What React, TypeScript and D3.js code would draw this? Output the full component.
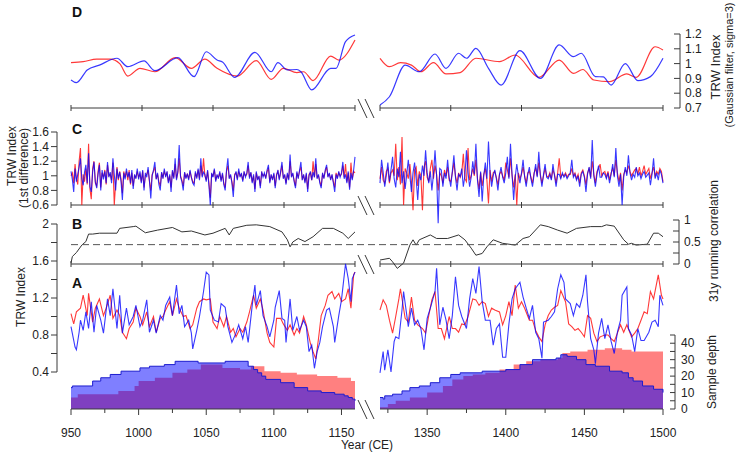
import * as d3 from "d3";

type Pt = [number, number];

// ---------- x axis (two segments with a break) ----------
const LEFT_YEARS: [number, number] = [950, 1160];
const RIGHT_YEARS: [number, number] = [1320, 1500];
const yearLabelsLeft = [950, 1000, 1050, 1100, 1150];
const yearMinorLeft = [975, 1025, 1075, 1125];
const yearLabelsRight = [1350, 1400, 1450, 1500];
const yearMinorRight = [1325, 1375, 1425, 1475];

// ---------- y ticks ----------
const dTicks = [0.7, 0.8, 0.9, 1.0, 1.1, 1.2];
const cTicks = [0.6, 0.8, 1.0, 1.2, 1.4, 1.6];
const bTicks = [0, 0.25, 0.5, 0.75, 1];
const bLabels = [0, 0.5, 1];
const aTicks = [0.4, 0.6, 0.8, 1.0, 1.2, 1.4, 1.6, 1.8, 2.0];
const aLabels = [0.4, 0.8, 1.2, 1.6, 2.0];
const depthTicks = [0, 5, 10, 15, 20, 25, 30, 35, 40, 45];
const depthLabels = [0, 10, 20, 30, 40];
const corrThreshold = 0.44;

// ---------- D: Gaussian filtered (sigma=3) ----------
const dRedLeft: Pt[] = [[950,1.006],[959,1.013],[969,1.03],[979,1.03],[986,1.0],[992,0.916],[1001,0.968],[1012,0.945],[1027,1.04],[1039,0.968],[1049,1.03],[1058,0.968],[1073,0.916],[1087,1.02],[1098,0.894],[1107,0.968],[1117,0.939],[1122,0.945],[1129,0.885],[1142,1.051],[1148,1.024],[1160,1.16]];
const dBlueLeft: Pt[] = [[950,0.889],[954,0.871],[962,0.957],[971,0.99],[984,1.036],[992,0.979],[1004,1.018],[1012,0.952],[1029,1.04],[1041,0.912],[1050,1.08],[1058,1.024],[1062,1.01],[1071,0.907],[1086,1.076],[1098,0.945],[1103,1.006],[1110,0.957],[1117,0.96],[1120,0.945],[1128,0.822],[1142,0.968],[1146,0.968],[1153,1.148],[1160,1.193]];
const dRedRight: Pt[] = [[1320,1.036],[1326,0.979],[1333,1.006],[1340,0.99],[1346,0.945],[1354,1.006],[1362,0.93],[1371,0.939],[1381,1.036],[1396,1.013],[1406,1.058],[1421,0.907],[1434,1.024],[1443,0.934],[1449,0.96],[1456,0.889],[1466,0.878],[1477,0.93],[1483,0.907],[1495,1.114],[1500,1.092]];
const dBlueRight: Pt[] = [[1320,0.72],[1326,0.776],[1336,0.99],[1345,0.945],[1355,1.065],[1362,0.968],[1370,1.07],[1375,1.036],[1381,1.103],[1389,0.968],[1397,0.855],[1409,1.087],[1422,0.9],[1434,1.126],[1443,1.047],[1448,1.07],[1457,0.912],[1462,0.91],[1467,0.855],[1476,1.0],[1484,0.885],[1492,0.912],[1500,1.036]];

// ---------- C: 1st difference, annual ----------
const cBlueLeft = [
  1.06,0.95,0.78,1.10,0.92,1.02,1.12,1.24,0.96,0.87,
  1.05,1.15,0.90,1.31,0.85,0.78,1.05,1.19,0.92,0.83,
  1.02,1.15,0.80,1.08,0.95,1.06,0.90,1.19,0.98,1.05,
  0.90,1.24,1.02,0.80,1.10,0.96,1.05,0.92,0.67,1.04,
  0.95,1.10,0.98,1.05,0.90,1.08,0.82,1.02,0.96,1.10,
  0.95,1.06,0.90,1.08,0.80,1.04,0.98,1.12,0.94,0.69,
  1.00,1.08,1.19,0.95,1.04,0.88,0.80,1.05,0.96,1.10,
  0.98,1.06,0.90,1.02,0.78,1.08,0.96,1.24,0.94,1.06,
  1.42,0.98,0.92,0.80,1.05,0.96,1.03,0.94,1.08,0.98,
  0.90,0.87,1.06,0.96,1.10,0.94,1.24,0.98,1.05,1.02,
  0.92,1.08,0.86,0.60,1.04,0.98,1.10,0.92,1.02,0.96,
  1.06,0.92,1.04,0.88,0.80,1.08,1.24,0.96,1.02,0.90,
  0.71,1.00,1.06,0.94,1.10,0.98,1.04,0.92,1.06,0.98,
  1.04,1.19,0.96,1.05,0.90,1.02,0.78,1.06,0.94,1.00,
  0.83,1.06,0.98,1.04,0.96,1.08,1.15,0.90,1.02,0.94,
  1.04,0.83,1.00,1.08,0.94,1.06,1.19,0.96,1.02,0.88,
  1.04,0.94,1.29,0.98,1.04,0.92,0.83,1.06,0.96,1.08,
  1.19,0.94,1.02,0.90,1.04,0.78,1.00,1.06,0.94,1.05,
  0.98,1.24,0.96,1.02,0.90,0.83,1.04,0.96,1.08,1.15,
  0.98,1.04,0.94,1.02,0.90,0.78,1.02,0.96,1.06,0.98,
  1.04,1.19,0.96,1.02,0.90,1.06,0.81,1.04,0.94,1.08,
  1.26,
];
const cRedLeft = [
  1.00,1.04,0.90,1.16,0.96,0.88,1.20,1.38,0.60,1.02,
  0.92,1.10,0.88,1.44,0.82,0.68,1.10,1.20,0.90,0.86,
  1.06,1.18,0.84,1.04,0.98,1.08,0.88,1.15,1.00,1.02,
  0.94,1.18,0.60,0.90,1.12,0.94,1.06,0.96,0.76,1.06,
  0.98,1.06,0.94,1.08,0.88,1.04,0.86,1.00,0.98,1.06,
  0.98,1.02,0.92,1.06,0.84,1.00,1.02,1.08,0.92,0.80,
  1.02,1.06,1.12,0.96,1.02,0.92,0.86,1.04,0.98,1.06,
  1.00,1.04,0.92,1.00,0.84,1.06,0.98,1.16,0.96,1.04,
  1.24,1.00,0.94,0.86,1.04,0.98,1.02,0.96,1.06,0.98,
  0.92,0.90,1.04,0.98,1.08,0.96,1.14,1.00,1.24,1.00,
  0.94,1.06,0.90,0.70,1.02,1.00,1.08,0.94,1.00,0.98,
  1.04,0.94,1.02,0.90,0.84,1.06,1.14,0.98,1.00,0.92,
  0.80,1.02,1.04,0.96,1.06,1.00,1.02,0.94,1.04,1.00,
  1.02,1.14,0.98,1.04,0.92,1.00,0.82,1.04,0.96,0.98,
  0.86,1.04,1.00,1.02,0.98,1.06,1.10,0.92,1.00,0.96,
  1.02,0.86,1.02,1.06,0.96,1.04,1.14,0.98,1.00,0.90,
  1.02,0.96,1.20,1.00,1.02,0.94,0.86,1.04,0.98,1.06,
  1.12,0.96,1.00,0.92,1.02,0.82,1.02,1.04,0.94,1.20,
  0.98,1.16,0.98,1.00,0.92,0.86,1.02,0.98,1.06,1.12,
  1.00,1.02,0.96,1.00,0.92,0.84,1.04,0.98,1.04,1.00,
  1.02,1.14,0.98,1.16,0.92,1.04,0.84,1.18,0.96,1.06,
  1.04,
];
const cBlueRight = [
  0.90,1.22,1.05,0.85,1.00,1.18,0.92,1.08,1.26,0.96,
  0.84,1.10,0.98,1.33,0.90,1.06,0.82,1.02,1.22,1.00,
  0.78,1.04,1.18,0.96,0.67,1.02,0.94,1.14,1.00,1.35,
  1.04,0.90,1.06,0.80,1.02,1.35,1.00,0.35,1.10,1.08,
  0.85,1.04,0.96,1.22,0.98,0.85,1.06,1.28,0.98,0.80,
  1.02,0.99,1.10,0.85,1.00,1.35,1.04,0.85,0.98,1.20,
  1.02,1.44,0.94,0.71,1.06,0.65,1.00,1.18,0.96,1.47,
  1.04,0.85,1.00,1.08,0.96,0.80,1.02,1.12,0.98,0.90,
  1.04,1.26,0.96,1.44,1.02,0.67,0.98,1.16,1.00,0.90,
  1.04,1.22,0.98,0.85,1.02,1.12,0.96,0.85,1.02,1.16,
  0.98,1.33,1.00,0.85,1.02,1.16,0.98,0.96,1.02,0.94,
  1.16,1.00,0.85,1.02,1.02,0.96,1.04,0.98,1.02,0.96,
  1.00,1.04,1.22,0.98,1.02,0.94,1.00,0.85,1.02,1.06,
  0.98,0.78,1.02,1.12,0.96,1.49,1.00,0.85,1.02,1.14,
  0.98,0.98,1.04,1.02,0.96,1.04,0.90,1.02,1.16,0.98,
  1.38,1.00,0.85,1.02,0.60,0.98,1.12,1.00,1.28,1.04,
  0.94,1.02,0.98,1.12,1.00,1.04,0.96,1.02,1.06,0.98,
  1.01,1.04,0.87,1.02,1.24,0.96,1.04,0.94,1.08,1.02,
  0.90,
];
const cRedRight = [
  0.96,1.12,0.94,0.90,1.06,1.10,0.90,1.04,1.08,1.00,
  1.44,0.94,1.12,0.88,1.53,0.60,1.10,1.04,0.96,1.16,
  0.92,0.53,1.08,1.12,0.86,1.06,1.00,0.53,1.12,1.20,
  0.98,0.92,1.10,1.22,0.96,1.14,1.02,0.80,1.04,1.00,
  0.90,1.08,1.00,1.12,0.94,0.92,1.04,1.18,1.00,0.90,
  1.04,0.98,1.04,1.30,0.96,0.92,1.38,0.94,1.00,1.10,
  1.00,1.22,0.96,0.82,1.04,0.86,1.02,1.10,0.94,0.62,
  1.08,0.92,1.04,1.06,0.98,0.88,1.02,1.06,1.00,0.94,
  1.18,1.08,0.98,1.24,1.00,0.84,1.02,0.60,1.04,0.96,
  1.02,1.12,1.00,0.90,1.04,1.06,0.98,0.90,1.04,1.10,
  1.00,1.18,1.02,0.90,1.00,1.10,1.00,0.98,1.04,0.96,
  1.08,1.02,0.90,1.04,1.24,0.98,1.02,1.00,1.04,0.98,
  1.02,1.02,1.10,1.00,1.04,0.96,1.02,0.90,1.04,1.08,
  1.00,0.88,1.04,1.10,0.98,1.20,1.02,0.90,1.06,1.10,
  1.16,1.00,1.04,1.06,0.98,1.06,0.94,1.04,1.10,1.00,
  1.22,1.04,0.92,1.04,0.80,1.02,1.08,1.04,1.14,1.06,
  1.00,1.04,1.08,1.10,1.02,1.12,1.00,1.06,1.14,1.02,
  1.06,1.10,0.96,1.04,1.12,1.00,1.06,1.02,1.10,1.06,
  0.92,
];

// ---------- B: 31y running correlation ----------
const corrLeft: Pt[] = [[950,0.02],[951,0.17],[954,0.26],[958,0.43],[961,0.51],[963,0.68],[966,0.68],[971,0.7],[984,0.7],[986,0.81],[996,0.85],[998,0.86],[1005,0.71],[1014,0.77],[1025,0.83],[1032,0.73],[1039,0.75],[1049,0.66],[1055,0.7],[1064,0.81],[1067,0.66],[1070,0.81],[1080,0.88],[1087,0.89],[1097,0.85],[1106,0.73],[1110,0.55],[1112,0.39],[1114,0.5],[1118,0.58],[1123,0.51],[1129,0.62],[1136,0.81],[1144,0.81],[1151,0.7],[1155,0.58],[1160,0.73]];
const corrRight: Pt[] = [[1320,0.09],[1326,0.13],[1328,0.05],[1331,-0.1],[1335,0.02],[1339,0.43],[1341,0.55],[1343,0.43],[1345,0.55],[1352,0.66],[1356,0.58],[1363,0.58],[1370,0.66],[1374,0.55],[1378,0.36],[1381,0.2],[1385,0.24],[1388,0.39],[1392,0.55],[1398,0.47],[1406,0.43],[1411,0.58],[1415,0.62],[1422,0.89],[1427,0.85],[1433,0.77],[1439,0.7],[1445,0.81],[1454,0.85],[1461,0.85],[1464,0.89],[1469,0.86],[1475,0.55],[1478,0.45],[1480,0.47],[1483,0.43],[1490,0.45],[1494,0.7],[1497,0.7],[1500,0.62]];

// ---------- A: TRW index ----------
const aBlueLeft: Pt[] = [[950,0.89],[953,0.67],[954,0.64],[956,0.83],[957,0.96],[959,0.85],[961,1.05],[963,0.87],[965,1.16],[967,0.83],[969,1.12],[972,0.96],[974,0.82],[977,1.19],[979,1.01],[981,1.3],[984,0.87],[986,1.23],[988,0.82],[991,1.09],[993,0.91],[996,1.0],[998,1.12],[1001,0.89],[1003,0.96],[1006,1.18],[1008,0.83],[1011,0.96],[1013,0.82],[1016,1.01],[1018,0.96],[1020,1.12],[1023,1.21],[1025,1.01],[1028,1.34],[1030,1.03],[1032,1.12],[1034,0.89],[1037,0.96],[1039,0.82],[1040,0.65],[1043,0.85],[1045,1.0],[1048,1.27],[1050,1.48],[1052,1.45],[1053,1.07],[1056,0.96],[1059,0.94],[1061,1.14],[1064,1.1],[1066,0.89],[1069,0.72],[1072,0.82],[1074,0.91],[1077,0.76],[1079,0.89],[1081,0.72],[1084,1.12],[1086,1.34],[1087,1.12],[1090,1.28],[1092,1.01],[1095,0.89],[1097,0.78],[1100,0.96],[1101,1.1],[1104,1.28],[1106,0.98],[1108,0.96],[1109,0.72],[1112,1.19],[1114,0.85],[1117,1.0],[1119,0.85],[1122,0.96],[1124,0.89],[1126,0.62],[1128,0.69],[1130,0.44],[1132,0.62],[1134,0.72],[1136,0.89],[1139,1.07],[1141,1.09],[1144,0.89],[1145,0.72],[1148,1.01],[1150,1.18],[1153,1.57],[1155,1.41],[1157,1.16],[1158,1.41],[1160,1.48]];
const aRedLeft: Pt[] = [[950,1.03],[952,0.92],[954,1.05],[957,1.09],[959,1.23],[962,1.01],[963,1.25],[966,0.94],[968,1.09],[971,1.19],[974,1.01],[976,1.09],[979,1.23],[981,0.98],[984,1.07],[986,1.01],[988,0.83],[991,0.76],[993,0.87],[996,0.94],[998,1.09],[1001,1.0],[1003,0.91],[1006,1.05],[1008,0.89],[1011,1.0],[1013,0.83],[1016,0.98],[1018,1.0],[1020,1.07],[1023,1.16],[1025,1.01],[1028,1.19],[1030,1.09],[1033,1.0],[1035,1.01],[1038,0.87],[1040,0.91],[1043,1.09],[1045,1.16],[1048,1.19],[1050,1.18],[1053,1.19],[1055,0.94],[1058,0.87],[1060,1.0],[1063,0.89],[1065,1.0],[1068,0.83],[1070,0.87],[1072,0.78],[1075,0.87],[1077,0.83],[1080,0.94],[1082,1.05],[1085,1.23],[1087,1.09],[1090,1.19],[1092,1.07],[1095,0.82],[1097,0.72],[1100,0.67],[1102,0.98],[1105,0.98],[1107,0.92],[1110,0.85],[1112,0.91],[1115,0.8],[1117,0.87],[1119,0.82],[1122,1.0],[1124,0.91],[1127,0.71],[1129,0.62],[1131,0.54],[1133,0.76],[1135,1.01],[1138,1.12],[1140,1.23],[1143,1.27],[1145,1.19],[1148,1.25],[1150,1.16],[1153,1.19],[1155,1.3],[1157,1.09],[1159,1.45],[1160,1.48]];
const aBlueRight: Pt[] = [[1320,0.39],[1322,0.62],[1323,0.42],[1325,0.64],[1327,0.4],[1329,0.73],[1330,0.78],[1332,0.76],[1334,1.07],[1335,1.27],[1338,0.89],[1340,1.09],[1342,0.91],[1344,0.96],[1346,0.87],[1348,0.64],[1350,0.98],[1352,1.09],[1355,1.27],[1356,1.52],[1358,0.91],[1360,1.1],[1362,0.96],[1364,0.76],[1366,1.01],[1368,1.43],[1370,1.12],[1372,1.0],[1375,0.87],[1377,1.19],[1379,1.41],[1381,1.25],[1383,1.54],[1385,1.16],[1387,0.96],[1390,0.96],[1392,0.69],[1394,0.87],[1396,0.92],[1398,0.56],[1400,0.56],[1402,0.92],[1404,1.19],[1406,1.3],[1409,1.37],[1411,1.21],[1413,1.09],[1415,0.98],[1417,1.12],[1419,0.83],[1421,0.76],[1423,0.55],[1424,0.94],[1427,0.96],[1429,1.0],[1431,1.05],[1433,1.3],[1435,1.45],[1437,1.37],[1438,1.19],[1441,1.14],[1443,1.01],[1445,1.14],[1447,1.1],[1449,1.23],[1451,1.45],[1452,1.16],[1454,0.76],[1456,0.64],[1457,0.49],[1459,0.82],[1461,0.98],[1463,0.76],[1465,0.91],[1467,0.73],[1469,0.6],[1471,0.83],[1473,0.96],[1474,1.23],[1477,1.32],[1478,0.87],[1480,0.8],[1482,0.62],[1484,0.87],[1486,0.74],[1488,0.74],[1491,0.83],[1493,0.94],[1495,0.96],[1497,0.89],[1498,1.23],[1500,1.12]];
const aRedRight: Pt[] = [[1320,1.07],[1322,1.18],[1324,1.12],[1326,0.96],[1328,0.82],[1330,1.0],[1332,1.19],[1333,1.3],[1336,0.98],[1338,0.94],[1340,1.21],[1342,0.96],[1344,0.91],[1347,0.87],[1349,0.82],[1351,1.01],[1353,1.18],[1355,1.27],[1357,0.87],[1359,0.87],[1361,0.76],[1364,1.0],[1366,0.87],[1368,0.87],[1370,0.83],[1372,0.92],[1374,0.91],[1376,1.0],[1379,1.19],[1381,1.18],[1383,1.12],[1385,1.16],[1387,1.14],[1389,1.0],[1391,1.09],[1393,1.07],[1396,1.05],[1398,0.91],[1400,1.01],[1402,1.16],[1404,1.01],[1406,1.34],[1408,1.09],[1410,1.16],[1412,1.09],[1415,0.96],[1417,0.96],[1419,0.85],[1421,0.78],[1423,0.73],[1425,0.91],[1427,1.01],[1429,1.07],[1431,1.1],[1433,1.12],[1435,1.28],[1438,1.16],[1440,0.92],[1442,0.89],[1444,0.85],[1446,0.87],[1448,0.83],[1450,0.78],[1452,1.01],[1454,0.98],[1456,0.82],[1458,0.73],[1460,0.78],[1463,0.8],[1465,0.8],[1467,0.76],[1469,0.73],[1471,0.82],[1473,0.91],[1475,0.83],[1477,0.91],[1480,0.78],[1482,0.82],[1484,0.87],[1486,0.96],[1488,1.05],[1490,1.03],[1492,1.27],[1494,1.19],[1497,1.45],[1499,1.23],[1500,1.19]];

// ---------- A: sample depth ----------
const depthBlueLeft: Pt[] = [[950,13],[951,14],[966,17],[972,19],[979,21],[987,23],[1001,25],[1008,26],[1019,27],[1027,29],[1044,28],[1064,29],[1081,26],[1085,24],[1088,22],[1091,20],[1094,18],[1105,16],[1115,13],[1125,11],[1135,10],[1145,9],[1152,8],[1155,7],[1158,6],[1160,5]];
const depthRedLeft: Pt[] = [[950,7],[955,9],[985,11],[997,14],[1000,17],[1012,19],[1025,22],[1036,24],[1046,27],[1062,25],[1075,24],[1083,26],[1093,23],[1105,22],[1117,21],[1132,20],[1147,19],[1157,17],[1160,14]];
const depthBlueRight: Pt[] = [[1320,7],[1322,6],[1323,8],[1328,9],[1334,11],[1339,13],[1345,14],[1352,16],[1358,19],[1365,21],[1371,22],[1385,23],[1400,24],[1409,27],[1417,30],[1432,31],[1435,33],[1439,32],[1445,30],[1451,27],[1457,26],[1466,23],[1474,22],[1478,19],[1481,17],[1487,14],[1494,12],[1500,10]];
const depthRedRight: Pt[] = [[1320,1],[1325,3],[1330,5],[1339,7],[1350,10],[1360,14],[1366,18],[1373,20],[1379,21],[1387,22],[1396,24],[1405,27],[1413,29],[1422,30],[1433,31],[1436,34],[1441,35],[1452,36],[1463,37],[1474,36],[1480,35],[1500,36]];

const FONT = "'Liberation Sans', Arial, sans-serif";
const AXIS = "#3a3a3a";
const TEXT = "#222";
const RED = "rgba(255,0,0,0.78)";
const BLUE = "rgba(0,0,255,0.78)";

const annual = (start: number, vals: number[]): Pt[] => vals.map((v, i) => [start + i, v]);
const fmt = (v: number) => String(+v.toFixed(2));

export default function App() {
  const W = 737;
  const H = 454;

  const xL = d3.scaleLinear().domain(LEFT_YEARS).range([71, 355]);
  const xR = d3.scaleLinear().domain(RIGHT_YEARS).range([380, 663]);
  const yD = d3.scaleLinear().domain([0.7, 1.2]).range([108, 34]);
  const yC = d3.scaleLinear().domain([0.6, 1.6]).range([205, 132]);
  const yB = d3.scaleLinear().domain([0, 1]).range([264, 220]);
  const yA = d3.scaleLinear().domain([0.4, 2.0]).range([372, 224]);
  const yN = d3.scaleLinear().domain([0, 45]).range([409, 335]);

  const segs = [
    { key: "L", x: xL, span: LEFT_YEARS, dRed: dRedLeft, dBlue: dBlueLeft, cRed: annual(950, cRedLeft), cBlue: annual(950, cBlueLeft), corr: corrLeft, aRed: aRedLeft, aBlue: aBlueLeft, nRed: depthRedLeft, nBlue: depthBlueLeft, major: yearLabelsLeft, minor: yearMinorLeft },
    { key: "R", x: xR, span: RIGHT_YEARS, dRed: dRedRight, dBlue: dBlueRight, cRed: annual(1320, cRedRight), cBlue: annual(1320, cBlueRight), corr: corrRight, aRed: aRedRight, aBlue: aBlueRight, nRed: depthRedRight, nBlue: depthBlueRight, major: yearLabelsRight, minor: yearMinorRight },
  ];

  const lineOf = (x: d3.ScaleLinear<number, number>, y: d3.ScaleLinear<number, number>, curve: d3.CurveFactory = d3.curveLinear) =>
    d3.line<Pt>().x((d) => x(d[0])).y((d) => y(d[1])).curve(curve);
  const areaOf = (x: d3.ScaleLinear<number, number>) =>
    d3.area<Pt>().x((d) => x(d[0])).y0(yN(0)).y1((d) => yN(d[1])).curve(d3.curveStepAfter);

  const axisYs = [yD(0.7), yC(0.6), yB(0), yN(0)];

  return (
    <svg width={W} height={H} style={{ position: "absolute", left: 0, top: 0, background: "#fff" }} fontFamily={FONT}>
      {segs.map((s) => {
        const [lo, hi] = s.span;
        const evenTicks = d3.range(5).map((i) => lo + (i * (hi - lo)) / 4);
        return (
          <g key={s.key}>
            {/* sample depth */}
            <path d={areaOf(s.x)(s.nRed) ?? ""} fill="#ff8080" />
            <path d={areaOf(s.x)(s.nBlue) ?? ""} fill="rgba(0,0,255,0.5)" />
            <path d={lineOf(s.x, yN, d3.curveStepAfter)(s.nBlue) ?? ""} fill="none" stroke="#1c1ccf" strokeWidth={1} />

            {/* top-panel axes */}
            {[yD(0.7), yC(0.6), yB(0)].map((yy, i) => (
              <g key={i} stroke={AXIS}>
                <line x1={s.x(lo)} x2={s.x(hi)} y1={yy} y2={yy} />
                {evenTicks.map((t) => (
                  <line key={t} x1={s.x(t)} x2={s.x(t)} y1={yy - 3} y2={yy + 3} />
                ))}
              </g>
            ))}

            {/* bottom axis */}
            <g stroke={AXIS}>
              <line x1={s.x(lo)} x2={s.x(hi)} y1={yN(0)} y2={yN(0)} />
              {s.major.map((t) => (
                <line key={t} x1={s.x(t)} x2={s.x(t)} y1={yN(0)} y2={yN(0) + 6} />
              ))}
              {s.minor.map((t) => (
                <line key={t} x1={s.x(t)} x2={s.x(t)} y1={yN(0)} y2={yN(0) + 4} />
              ))}
            </g>
            {s.major.map((t) => (
              <text key={t} x={s.x(t)} y={437} fontSize={12} textAnchor="middle" fill={TEXT}>
                {t}
              </text>
            ))}

            {/* A lines */}
            <path d={lineOf(s.x, yA)(s.aRed) ?? ""} fill="none" stroke={RED} strokeWidth={1.1} />
            <path d={lineOf(s.x, yA)(s.aBlue) ?? ""} fill="none" stroke={BLUE} strokeWidth={1.1} />

            {/* B */}
            <path d={lineOf(s.x, yB)(s.corr) ?? ""} fill="none" stroke="#333" strokeWidth={1} />

            {/* C */}
            <path d={lineOf(s.x, yC)(s.cRed) ?? ""} fill="none" stroke={RED} strokeWidth={1.1} />
            <path d={lineOf(s.x, yC)(s.cBlue) ?? ""} fill="none" stroke={BLUE} strokeWidth={1.1} />

            {/* D */}
            <path d={lineOf(s.x, yD, d3.curveMonotoneX)(s.dRed) ?? ""} fill="none" stroke={RED} strokeWidth={1.2} />
            <path d={lineOf(s.x, yD, d3.curveMonotoneX)(s.dBlue) ?? ""} fill="none" stroke={BLUE} strokeWidth={1.2} />
          </g>
        );
      })}

      {/* threshold */}
      <line x1={xL(950)} x2={xR(1500)} y1={yB(corrThreshold)} y2={yB(corrThreshold)} stroke="#555" strokeDasharray="7,4" />

      {/* break marks */}
      {axisYs.map((yy, i) => (
        <g key={i} stroke={AXIS}>
          <line x1={358} y1={yy - 9} x2={367} y2={yy + 10} />
          <line x1={365} y1={yy - 9} x2={374} y2={yy + 10} />
        </g>
      ))}

      {/* left axes */}
      <g stroke={AXIS}>
        <line x1={57} x2={57} y1={yC(1.6)} y2={yC(0.6)} />
        {cTicks.map((t) => <line key={t} x1={51} x2={57} y1={yC(t)} y2={yC(t)} />)}
        <line x1={57} x2={57} y1={yA(2.0)} y2={yA(0.4)} />
        {aTicks.map((t) => <line key={t} x1={51} x2={57} y1={yA(t)} y2={yA(t)} />)}
      </g>
      {cTicks.map((t) => (
        <text key={t} x={49} y={yC(t)} dy="0.35em" fontSize={12} textAnchor="end" fill={TEXT}>{fmt(t)}</text>
      ))}
      {aLabels.map((t) => (
        <text key={t} x={49} y={yA(t)} dy="0.35em" fontSize={12} textAnchor="end" fill={TEXT}>{fmt(t)}</text>
      ))}

      {/* right axes */}
      <g stroke={AXIS}>
        <line x1={680} x2={680} y1={yD(1.2)} y2={yD(0.7)} />
        {dTicks.map((t) => <line key={t} x1={674} x2={680} y1={yD(t)} y2={yD(t)} />)}
        <line x1={679} x2={679} y1={yB(1)} y2={yB(0)} />
        {bTicks.map((t) => <line key={t} x1={673} x2={679} y1={yB(t)} y2={yB(t)} />)}
        <line x1={675} x2={675} y1={yN(45)} y2={yN(0)} />
        {depthTicks.map((t) => <line key={t} x1={670} x2={675} y1={yN(t)} y2={yN(t)} />)}
      </g>
      {dTicks.map((t) => (
        <text key={t} x={685} y={yD(t)} dy="0.35em" fontSize={12} fill={TEXT}>{fmt(t)}</text>
      ))}
      {bLabels.map((t) => (
        <text key={t} x={684} y={yB(t)} dy="0.35em" fontSize={12} fill={TEXT}>{fmt(t)}</text>
      ))}
      {depthLabels.map((t) => (
        <text key={t} x={681} y={yN(t)} dy="0.35em" fontSize={12} fill={TEXT}>{t}</text>
      ))}

      {/* axis titles */}
      <g fontSize={12} fill={TEXT} textAnchor="middle">
        <text transform="translate(720,67) rotate(-90)" fontSize={13}>TRW Index</text>
        <text transform="translate(733,65) rotate(-90)" fontSize={11}>(Gaussian filter, sigma=3)</text>
        <text transform="translate(718,241) rotate(-90)">31y running correlation</text>
        <text transform="translate(716,372) rotate(-90)">Sample depth</text>
        <text transform="translate(16,156) rotate(-90)">TRW Index</text>
        <text transform="translate(28,168) rotate(-90)">(1st difference)</text>
        <text transform="translate(25,297) rotate(-90)">TRW Index</text>
        <text x={367} y={449}>Year (CE)</text>
      </g>

      {/* panel letters */}
      <g fontSize={14} fontWeight="bold" fill="#111">
        <text x={72} y={17}>D</text>
        <text x={72} y={134}>C</text>
        <text x={72} y={229}>B</text>
        <text x={72} y={288}>A</text>
      </g>
    </svg>
  );
}
